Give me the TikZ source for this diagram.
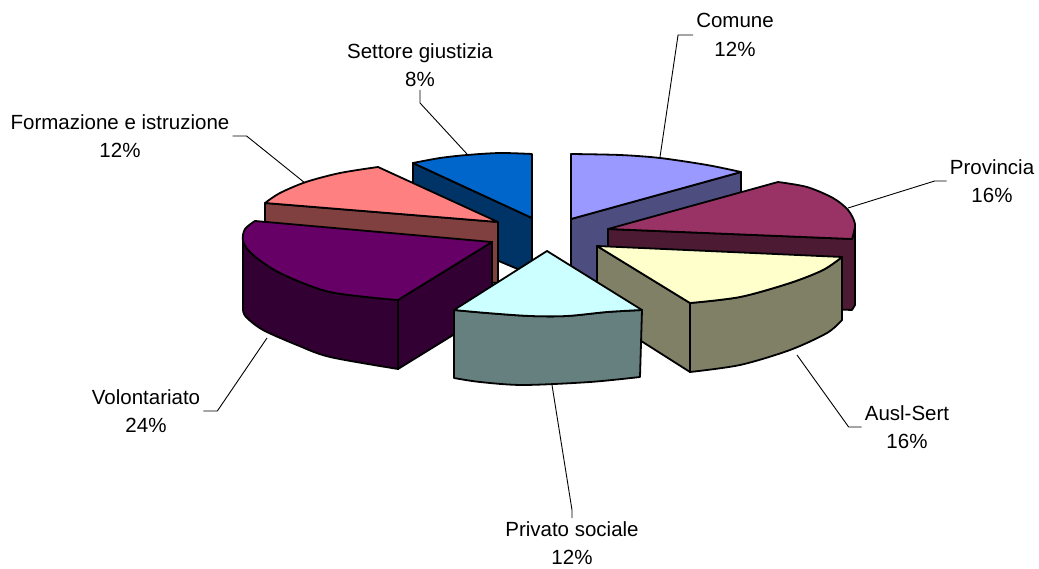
\documentclass[tikz,border=0pt]{standalone}
\usepackage{fontspec}
\setmainfont{Liberation Sans}
\definecolor{setT}{HTML}{0066CC}\definecolor{setD}{HTML}{003366}
\definecolor{comT}{HTML}{9999FF}\definecolor{comD}{HTML}{4D4D80}
\definecolor{forT}{HTML}{FF8080}\definecolor{forD}{HTML}{804040}
\definecolor{proT}{HTML}{993366}\definecolor{proD}{HTML}{4D1A33}
\definecolor{volT}{HTML}{660066}\definecolor{volD}{HTML}{330033}
\definecolor{ausT}{HTML}{FFFFCC}\definecolor{ausD}{HTML}{808066}
\definecolor{priT}{HTML}{CCFFFF}\definecolor{priD}{HTML}{668080}
\begin{document}
\begin{tikzpicture}[x=1pt,y=-1pt,
  slice/.style={draw=black,line width=1.8pt,line join=round},
  lbl/.style={font=\fontsize{20.5}{28.5}\selectfont,align=center,inner sep=3pt},
  leader/.style={draw=black,line width=0.9pt}]
\useasboundingbox[fill=white] (0,0) rectangle (1039,569);

% Settore giustizia
\path[slice,fill=setD] (413,163) -- (532,218) -- (532,275) -- (413,225) -- cycle;
\path[slice,fill=setT] (532,218) -- (413,163) -- plot[smooth] coordinates {(413,163)(440,158)(467,155)(500,153)(532,154)} -- cycle;
% Comune
\path[slice,fill=comD] (571,219) -- (741,172) -- (741,235) -- (571,290) -- cycle;
\path[slice,fill=comT] (571,219) -- (571,154) -- plot[smooth] coordinates {(571,154)(620,155)(660,158)(707,165)(741,172)} -- cycle;
% Formazione
\path[slice,fill=forD] (265,203) -- (498,222) -- (498,283) -- (265,265) -- cycle;
\path[slice,fill=forT] (498,222) -- (265,203) -- plot[smooth] coordinates {(265,203)(280,193)(306,182)(340,173)(378,167)} -- cycle;
% Provincia
\path[slice,fill=proD] (608,229) -- (852,239) -- (855,226) -- (855,305) -- (852,310) -- (608,300) -- cycle;
\path[slice,fill=proT] (608,229) -- (778,182) -- plot[smooth] coordinates {(778,182)(807,187)(833,198)(848,210)(855,224)(852,239)} -- cycle;
% Volontariato
\path[slice,fill=volD] (398,300) -- (492,242) -- (492,311) -- (398,369) -- cycle;
\path[slice,fill=volD] plot[smooth] coordinates {(398,300)(330,292)(280,273)(252,254)(243,241)} -- (243,310) -- plot[smooth] coordinates {(243,310)(246,317)(263,330)(297,345)(330,357)(398,369)} -- cycle;
\path[slice,fill=volT] (492,242) -- (255,221) -- plot[smooth] coordinates {(255,221)(245,229)(243,241)(252,254)(280,273)(330,292)(398,300)} -- cycle;
% Ausl-Sert
\path[slice,fill=ausD] (597,246) -- (690,303) -- (690,372) -- (597,313) -- cycle;
\path[slice,fill=ausD] plot[smooth] coordinates {(690,303)(740,297)(790,283)(823,270)(842,257)} -- (842,320) -- plot[smooth] coordinates {(842,320)(827,333)(790,350)(740,365)(690,372)} -- cycle;
\path[slice,fill=ausT] (597,246) -- (842,257) -- plot[smooth] coordinates {(842,257)(823,270)(790,283)(740,297)(690,303)} -- cycle;
% Privato sociale
\path[slice,fill=priD] plot[smooth] coordinates {(454,310)(487,313)(530,316)(567,316)(607,312)(642,310)} -- (640,377) -- plot[smooth] coordinates {(640,377)(590,382)(523,385)(480,382)(454,378)} -- cycle;
\path[slice,fill=priT] (547,251) -- (642,310) -- plot[smooth] coordinates {(642,310)(607,312)(567,316)(530,316)(487,313)(454,310)} -- cycle;

% labels
\node[lbl] (settore) at (420,65) {Settore giustizia\\8\%};
\node[lbl] (formazione) at (120,136) {Formazione e istruzione\\12\%};
\node[lbl] (comune) at (735,35) {Comune\\12\%};
\node[lbl] (provincia) at (992,181) {Provincia\\16\%};
\node[lbl] (ausl) at (907,427) {Ausl-Sert\\16\%};
\node[lbl] (volontariato) at (146,411) {Volontariato\\24\%};
\node[lbl] (privato) at (572,543) {Privato sociale\\12\%};

\coordinate (eS) at (467,154);
\coordinate (eF) at (305,183);
\coordinate (eC) at (660,157);
\coordinate (eP) at (848,208);
\coordinate (eA) at (797,355);
\coordinate (eV) at (267,338);
\coordinate (eR) at (552,385);
\draw[leader] (settore.south) -- ++(0,13) -- (eS);
\draw[leader] (formazione.east) -- ++(14,0) -- (eF);
\draw[leader] (comune.west) -- ++(-15,0) -- (eC);
\draw[leader] (provincia.west) -- ++(-12,0) -- (eP);
\draw[leader] (ausl.west) -- ++(-13,0) -- (eA);
\draw[leader] (volontariato.east) -- ++(14,0) -- (eV);
\draw[leader] (privato.north) -- ++(0,-8) -- (eR);
\end{tikzpicture}
\end{document}
